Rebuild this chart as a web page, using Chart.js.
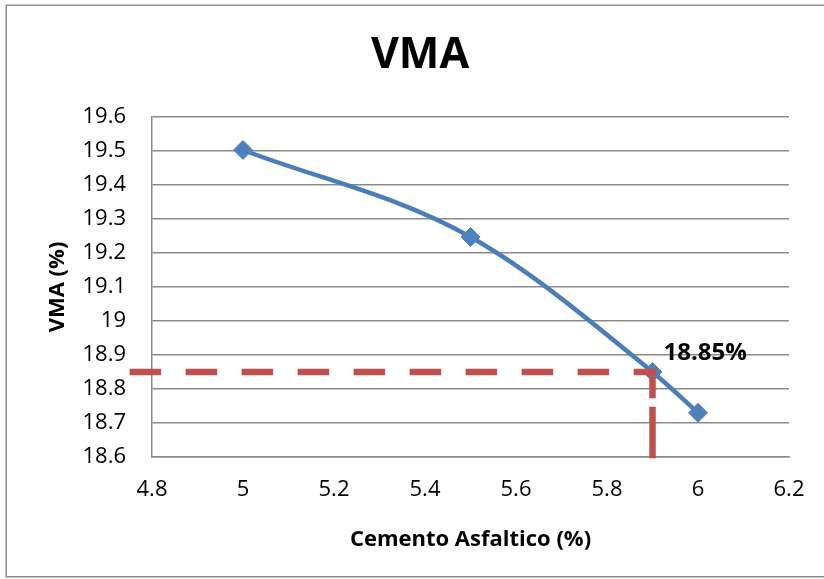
<!DOCTYPE html>
<html>
<head>
<meta charset="utf-8">
<script src="https://cdn.jsdelivr.net/npm/chart.js@4.4.1/dist/chart.umd.min.js"></script>
<style>
  html, body { margin: 0; padding: 0; background: #ffffff; overflow: hidden; }
  #wrap { width: 842px; height: 579px; }
</style>
</head>
<body>
<div id="wrap"><canvas id="c" width="842" height="579"></canvas></div>
<script>
// Asphalt content (%) and the measured VMA (%) for each mix
const asphaltContent = [5, 5.5, 5.9, 6];
const vmaValues = [19.503, 19.247, 18.85, 18.73];

// Design point
const designContent = 5.9;
const designVma = 18.85;
const designLabel = '18.85%';
const chartTitle = 'VMA';

// Guide lines: across from the left edge to the design point, then down to the axis
const guideAcrossX = [4.758, designContent];
const guideAcrossY = [designVma, designVma];
const guideDownX = [designContent, designContent];
const guideDownY = [designVma, 18.606];

// Axis ticks
const xTicks = [4.8, 5, 5.2, 5.4, 5.6, 5.8, 6, 6.2];
const yTicks = [18.6, 18.7, 18.8, 18.9, 19, 19.1, 19.2, 19.3, 19.4, 19.5, 19.6];

const FONT = '"Open Sans", "Liberation Sans", sans-serif';

const toPoints = (xs, ys) => xs.map((x, i) => ({ x: x, y: ys[i] }));

// Outer frame and the chart title
const framePlugin = {
  id: 'frame',
  beforeDraw(chart) {
    const ctx = chart.ctx;
    ctx.save();
    ctx.fillStyle = '#ffffff';
    ctx.fillRect(0, 0, chart.width, chart.height);
    ctx.strokeStyle = '#8c8c8c';
    ctx.lineWidth = 1.5;
    ctx.strokeRect(6.25, 5.25, 826, 571.5);
    ctx.font = 'bold 43px ' + FONT;
    ctx.fillStyle = '#000000';
    ctx.textAlign = 'center';
    ctx.textBaseline = 'middle';
    ctx.fillText(chartTitle, 420, 56);
    ctx.restore();
  }
};

// Value label next to the design point
const designLabelPlugin = {
  id: 'designLabel',
  afterDatasetsDraw(chart) {
    const xs = chart.scales.x, ys = chart.scales.y;
    const ctx = chart.ctx;
    ctx.save();
    ctx.font = 'bold 24px ' + FONT;
    ctx.fillStyle = '#000000';
    ctx.textAlign = 'left';
    ctx.textBaseline = 'middle';
    ctx.fillText(designLabel, xs.getPixelForValue(designContent) + 11, ys.getPixelForValue(designVma) - 19);
    ctx.restore();
  }
};

const guideStyle = {
  showLine: true,
  borderColor: '#C0504D',
  borderWidth: 6.5,
  borderCapStyle: 'square',
  pointRadius: 0,
  tension: 0,
  clip: false
};

new Chart(document.getElementById('c'), {
  type: 'scatter',
  data: {
    datasets: [
      Object.assign({ label: 'guide-across', data: toPoints(guideAcrossX, guideAcrossY), borderDash: [25, 31], order: 0 }, guideStyle),
      Object.assign({ label: 'guide-down', data: toPoints(guideDownX, guideDownY), borderDash: [23, 15, 60, 10], order: 0 }, guideStyle),
      {
        label: 'VMA',
        data: toPoints(asphaltContent, vmaValues),
        showLine: true,
        borderColor: '#4A7EBB',
        borderWidth: 4.5,
        tension: 0.4,
        cubicInterpolationMode: 'monotone',
        pointStyle: 'rectRot',
        pointRadius: 9.5,
        pointBackgroundColor: '#4F81BD',
        pointBorderColor: '#4F81BD',
        pointBorderWidth: 1,
        order: 1
      }
    ]
  },
  options: {
    responsive: false,
    animation: false,
    devicePixelRatio: 1,
    layout: { padding: { left: 0, right: 53, top: 117, bottom: 0 } },
    plugins: {
      legend: { display: false },
      tooltip: { enabled: false },
      title: { display: false }
    },
    scales: {
      x: {
        type: 'linear',
        min: 4.8,
        max: 6.2,
        afterBuildTicks(scale) { scale.ticks = xTicks.map(v => ({ value: v })); },
        afterFit(scale) { scale.height = 122; },
        grid: { display: false, drawTicks: false },
        border: { display: true, color: '#8a8a8a', width: 1.5 },
        ticks: {
          color: '#000000',
          font: { family: FONT, size: 22 },
          padding: 20,
          maxRotation: 0,
          callback: v => String(v)
        },
        title: {
          display: true,
          text: 'Cemento Asfaltico (%)',
          color: '#000000',
          font: { family: FONT, size: 22, weight: 'bold' },
          padding: { top: 0, bottom: 26 }
        }
      },
      y: {
        type: 'linear',
        min: 18.6,
        max: 19.6,
        afterBuildTicks(scale) { scale.ticks = yTicks.map(v => ({ value: v })); },
        afterFit(scale) { scale.width = 152; },
        grid: { color: '#8a8a8a', lineWidth: 1.5, drawTicks: false },
        border: { display: true, color: '#8a8a8a', width: 1.5 },
        ticks: {
          color: '#000000',
          font: { family: FONT, size: 22 },
          padding: 26,
          callback: v => String(v)
        },
        title: {
          display: true,
          text: 'VMA (%)',
          color: '#000000',
          font: { family: FONT, size: 22, weight: 'bold' },
          padding: { top: 45, bottom: 0 }
        }
      }
    }
  },
  plugins: [framePlugin, designLabelPlugin]
});
</script>
</body>
</html>
